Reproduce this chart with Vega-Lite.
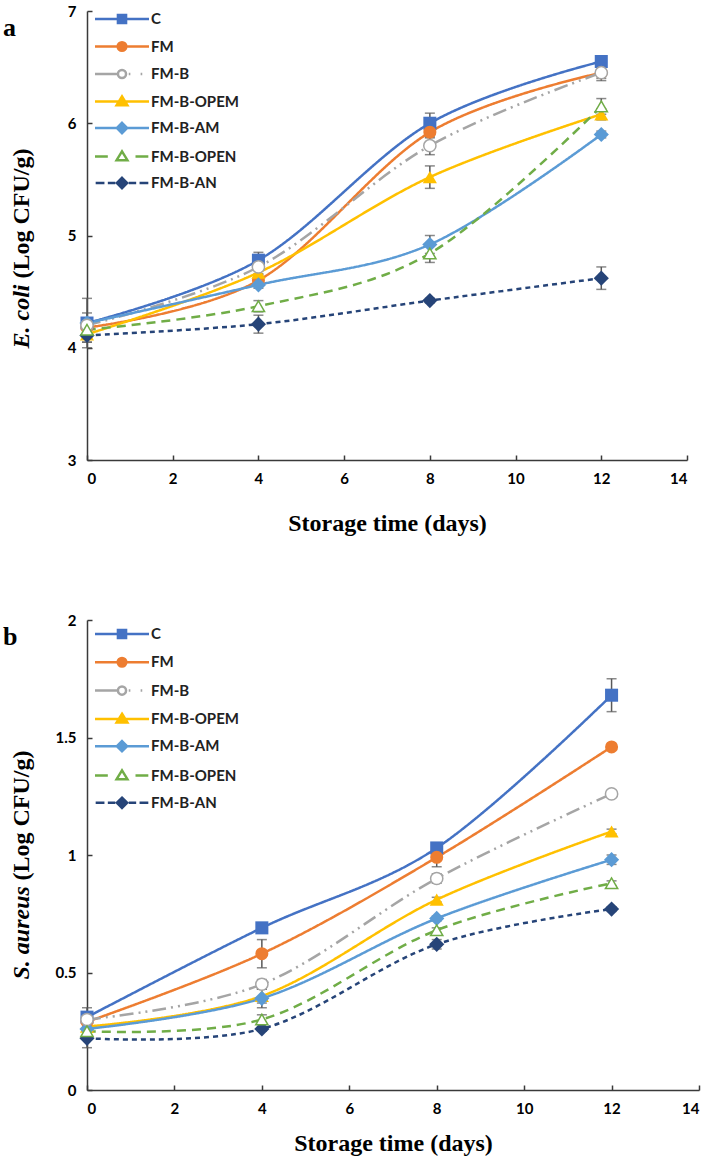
{
  "$schema": "https://vega.github.io/schema/vega-lite/v6.json",
  "padding": {"left": 3, "top": 4, "right": 5, "bottom": 5},
  "background": "white",
  "data": {
    "values": [
      {"panel": "a", "series": "C", "day": 0, "mean": 4.22, "sd": 0.22},
      {"panel": "a", "series": "C", "day": 4, "mean": 4.78, "sd": 0.07},
      {"panel": "a", "series": "C", "day": 8, "mean": 6.0, "sd": 0.09},
      {"panel": "a", "series": "C", "day": 12, "mean": 6.55, "sd": 0.05},
      {"panel": "a", "series": "FM", "day": 0, "mean": 4.18, "sd": 0.13},
      {"panel": "a", "series": "FM", "day": 4, "mean": 4.6, "sd": 0.05},
      {"panel": "a", "series": "FM", "day": 8, "mean": 5.92, "sd": 0.05},
      {"panel": "a", "series": "FM", "day": 12, "mean": 6.45, "sd": 0.07},
      {"panel": "a", "series": "FM-B", "day": 0, "mean": 4.2, "sd": 0.05},
      {"panel": "a", "series": "FM-B", "day": 4, "mean": 4.72, "sd": 0.06},
      {"panel": "a", "series": "FM-B", "day": 8, "mean": 5.8, "sd": 0.08},
      {"panel": "a", "series": "FM-B", "day": 12, "mean": 6.45, "sd": 0.05},
      {"panel": "a", "series": "FM-B-OPEM", "day": 0, "mean": 4.12, "sd": 0.04},
      {"panel": "a", "series": "FM-B-OPEM", "day": 4, "mean": 4.67, "sd": 0.05},
      {"panel": "a", "series": "FM-B-OPEM", "day": 8, "mean": 5.52, "sd": 0.1},
      {"panel": "a", "series": "FM-B-OPEM", "day": 12, "mean": 6.08, "sd": 0.05},
      {"panel": "a", "series": "FM-B-AM", "day": 0, "mean": 4.22, "sd": 0.04},
      {"panel": "a", "series": "FM-B-AM", "day": 4, "mean": 4.56, "sd": 0.03},
      {"panel": "a", "series": "FM-B-AM", "day": 8, "mean": 4.92, "sd": 0.08},
      {"panel": "a", "series": "FM-B-AM", "day": 12, "mean": 5.9, "sd": 0.03},
      {"panel": "a", "series": "FM-B-OPEN", "day": 0, "mean": 4.16, "sd": 0.05},
      {"panel": "a", "series": "FM-B-OPEN", "day": 4, "mean": 4.37, "sd": 0.05},
      {"panel": "a", "series": "FM-B-OPEN", "day": 8, "mean": 4.84, "sd": 0.08},
      {"panel": "a", "series": "FM-B-OPEN", "day": 12, "mean": 6.15, "sd": 0.07},
      {"panel": "a", "series": "FM-B-AN", "day": 0, "mean": 4.11, "sd": 0.06},
      {"panel": "a", "series": "FM-B-AN", "day": 4, "mean": 4.21, "sd": 0.08},
      {"panel": "a", "series": "FM-B-AN", "day": 8, "mean": 4.42, "sd": 0.02},
      {"panel": "a", "series": "FM-B-AN", "day": 12, "mean": 4.62, "sd": 0.1},
      {"panel": "b", "series": "C", "day": 0, "mean": 0.31, "sd": 0.04},
      {"panel": "b", "series": "C", "day": 4, "mean": 0.69, "sd": 0.02},
      {"panel": "b", "series": "C", "day": 8, "mean": 1.03, "sd": 0.01},
      {"panel": "b", "series": "C", "day": 12, "mean": 1.68, "sd": 0.07},
      {"panel": "b", "series": "FM", "day": 0, "mean": 0.29, "sd": 0.03},
      {"panel": "b", "series": "FM", "day": 4, "mean": 0.58, "sd": 0.06},
      {"panel": "b", "series": "FM", "day": 8, "mean": 0.99, "sd": 0.04},
      {"panel": "b", "series": "FM", "day": 12, "mean": 1.46, "sd": 0.01},
      {"panel": "b", "series": "FM-B", "day": 0, "mean": 0.3, "sd": 0.02},
      {"panel": "b", "series": "FM-B", "day": 4, "mean": 0.45, "sd": 0.02},
      {"panel": "b", "series": "FM-B", "day": 8, "mean": 0.9, "sd": 0.02},
      {"panel": "b", "series": "FM-B", "day": 12, "mean": 1.26, "sd": 0.01},
      {"panel": "b", "series": "FM-B-OPEM", "day": 0, "mean": 0.27, "sd": 0.02},
      {"panel": "b", "series": "FM-B-OPEM", "day": 4, "mean": 0.4, "sd": 0.03},
      {"panel": "b", "series": "FM-B-OPEM", "day": 8, "mean": 0.81, "sd": 0.01},
      {"panel": "b", "series": "FM-B-OPEM", "day": 12, "mean": 1.1, "sd": 0.01},
      {"panel": "b", "series": "FM-B-AM", "day": 0, "mean": 0.26, "sd": 0.02},
      {"panel": "b", "series": "FM-B-AM", "day": 4, "mean": 0.39, "sd": 0.04},
      {"panel": "b", "series": "FM-B-AM", "day": 8, "mean": 0.73, "sd": 0.01},
      {"panel": "b", "series": "FM-B-AM", "day": 12, "mean": 0.98, "sd": 0.02},
      {"panel": "b", "series": "FM-B-OPEN", "day": 0, "mean": 0.25, "sd": 0.02},
      {"panel": "b", "series": "FM-B-OPEN", "day": 4, "mean": 0.3, "sd": 0.02},
      {"panel": "b", "series": "FM-B-OPEN", "day": 8, "mean": 0.68, "sd": 0.01},
      {"panel": "b", "series": "FM-B-OPEN", "day": 12, "mean": 0.88, "sd": 0.01},
      {"panel": "b", "series": "FM-B-AN", "day": 0, "mean": 0.22, "sd": 0.04},
      {"panel": "b", "series": "FM-B-AN", "day": 4, "mean": 0.26, "sd": 0.01},
      {"panel": "b", "series": "FM-B-AN", "day": 8, "mean": 0.62, "sd": 0.02},
      {"panel": "b", "series": "FM-B-AN", "day": 12, "mean": 0.77, "sd": 0.01}
    ]
  },
  "vconcat": [
    {
      "width": 600,
      "height": 449,
      "title": {"text": "a", "anchor": "start", "frame": "group", "orient": "top", "offset": -58, "dx": -84, "baseline": "alphabetic", "font": "Liberation Serif", "fontSize": 26, "fontWeight": "bold", "color": "#000000"},
      "transform": [{"filter": {"field": "panel", "equal": "a"}}],
      "layer": [
        {
          "mark": {"type": "errorbar", "ticks": true, "size": 10, "thickness": 1.5, "color": "#595959"},
          "encoding": {
            "x": {"field": "day", "type": "quantitative"},
            "y": {"field": "mean", "type": "quantitative", "axis": null},
            "yError": {"field": "sd"}
          }
        },
        {
          "mark": {"type": "line", "interpolate": "cardinal", "strokeWidth": 2.5},
          "encoding": {
            "x": {"field": "day", "type": "quantitative", "scale": {"domain": [0, 14], "nice": false}, "axis": {"values": [0, 2, 4, 6, 8, 10, 12, 14], "title": "Storage time (days)"}},
            "y": {"field": "mean", "type": "quantitative", "scale": {"domain": [3, 7], "nice": false, "zero": false}, "axis": {"orient": "left", "values": [3, 4, 5, 6, 7], "title": "(Log CFU/g)", "titleX": -54, "titleY": 267, "titleAlign": "left", "titleAngle": -90, "titleBaseline": "bottom"}},
            "color": {"field": "series", "type": "nominal", "legend": null, "scale": {"domain": ["C", "FM", "FM-B", "FM-B-AM", "FM-B-AN", "FM-B-OPEM", "FM-B-OPEN"], "range": ["#4472C4", "#ED7D31", "#A5A5A5", "#5B9BD5", "#264478", "#FFC000", "#70AD47"]}},
            "strokeDash": {"field": "series", "type": "nominal", "legend": null, "scale": {"domain": ["C", "FM", "FM-B", "FM-B-AM", "FM-B-AN", "FM-B-OPEM", "FM-B-OPEN"], "range": [[1, 0], [1, 0], [14, 5, 2, 5, 2, 5], [1, 0], [5, 4], [1, 0], [9, 6]]}}
          }
        },
        {
          "transform": [{"filter": {"not": {"field": "series", "oneOf": ["FM-B", "FM-B-OPEN"]}}}],
          "mark": {"type": "point", "filled": true, "opacity": 1},
          "encoding": {
            "x": {"field": "day", "type": "quantitative"},
            "y": {"field": "mean", "type": "quantitative", "axis": null},
            "color": {"field": "series", "type": "nominal", "legend": null},
            "shape": {"condition": [{"test": "datum.series === 'C'", "value": "square"}, {"test": "datum.series === 'FM'", "value": "circle"}, {"test": "datum.series === 'FM-B-OPEM'", "value": "triangle-up"}], "value": "diamond"},
            "size": {"condition": [{"test": "datum.series === 'C'", "value": 170}, {"test": "datum.series === 'FM'", "value": 170}, {"test": "datum.series === 'FM-B-OPEM'", "value": 200}], "value": 230}
          }
        },
        {
          "transform": [{"filter": {"field": "series", "oneOf": ["FM-B", "FM-B-OPEN"]}}],
          "mark": {"type": "point", "filled": false, "fill": "white", "strokeWidth": 1.5, "opacity": 1},
          "encoding": {
            "x": {"field": "day", "type": "quantitative"},
            "y": {"field": "mean", "type": "quantitative", "axis": null},
            "color": {"field": "series", "type": "nominal", "legend": null},
            "shape": {"condition": {"test": "datum.series === 'FM-B'", "value": "circle"}, "value": "triangle-up"},
            "size": {"value": 150}
          }
        },
        {
          "transform": [{"filter": {"field": "day", "lt": 0}}],
          "mark": {"type": "point", "filled": true, "opacity": 1, "strokeWidth": 2.5, "size": 729},
          "encoding": {
            "x": {"field": "day", "type": "quantitative"},
            "y": {"field": "mean", "type": "quantitative", "axis": {"orient": "left", "domain": false, "ticks": false, "labels": false, "title": "E. coli", "titleFontStyle": "italic", "titleX": -54, "titleY": 337, "titleAlign": "left", "titleAngle": -90, "titleBaseline": "bottom"}},
            "shape": {"field": "series", "type": "nominal",
              "scale": {"domain": ["C", "FM", "FM-B", "FM-B-OPEM", "FM-B-AM", "FM-B-OPEN", "FM-B-AN"],
                "range": [
                  "M-2,0H2M-0.3,-0.3H0.3V0.3H-0.3Z",
                  "M-2,0H2M0.32,0A0.32,0.32 0 1,1 -0.32,0A0.32,0.32 0 1,1 0.32,0Z",
                  "M-2,0H-0.3M0.3,0A0.3,0.3 0 1,1 -0.3,0A0.3,0.3 0 1,1 0.3,0ZM0.5,0H0.62M1.38,0H1.5",
                  "M-2,0H2M0,-0.38L0.4,0.27L-0.4,0.27Z",
                  "M-2,0H2M0,-0.38L0.38,0L0,0.38L-0.38,0Z",
                  "M-2,0H-1.05M1,0H1.95M0,-0.38L0.4,0.27L-0.4,0.27Z",
                  "M-1.95,0H-1.3M-1.05,0H-0.5M0.5,0H1.05M1.3,0H1.95M0,-0.38L0.38,0L0,0.38L-0.38,0Z"
                ]},
              "legend": {"title": null, "orient": "none", "legendX": 0, "legendY": -7, "padding": 0, "symbolSize": 729, "symbolStrokeWidth": 2.5, "symbolOffset": 20, "labelOffset": 14, "labelFont": "Lato", "labelFontSize": 15, "labelFontWeight": "bold", "labelColor": "#222222", "rowPadding": 2.5}},
            "fill": {"field": "series", "type": "nominal", "scale": {"domain": ["C", "FM", "FM-B", "FM-B-OPEM", "FM-B-AM", "FM-B-OPEN", "FM-B-AN"], "range": ["#4472C4", "#ED7D31", "#FFFFFF", "#FFC000", "#5B9BD5", "#FFFFFF", "#264478"]},
              "legend": {"title": null, "orient": "none", "legendX": 0, "legendY": -7, "padding": 0, "symbolSize": 729, "symbolStrokeWidth": 2.5, "symbolOffset": 20, "labelOffset": 14, "labelFont": "Lato", "labelFontSize": 15, "labelFontWeight": "bold", "labelColor": "#222222", "rowPadding": 2.5}},
            "stroke": {"field": "series", "type": "nominal", "scale": {"domain": ["C", "FM", "FM-B", "FM-B-OPEM", "FM-B-AM", "FM-B-OPEN", "FM-B-AN"], "range": ["#4472C4", "#ED7D31", "#A5A5A5", "#FFC000", "#5B9BD5", "#70AD47", "#264478"]},
              "legend": {"title": null, "orient": "none", "legendX": 0, "legendY": -7, "padding": 0, "symbolSize": 729, "symbolStrokeWidth": 2.5, "symbolOffset": 20, "labelOffset": 14, "labelFont": "Lato", "labelFontSize": 15, "labelFontWeight": "bold", "labelColor": "#222222", "rowPadding": 2.5}}
          }
        }
      ],
      "resolve": {"axis": {"y": "independent"}}
    },
    {
      "width": 612,
      "height": 470,
      "title": {"text": "b", "anchor": "start", "frame": "group", "orient": "top", "offset": -58, "dx": -84, "baseline": "alphabetic", "font": "Liberation Serif", "fontSize": 26, "fontWeight": "bold", "color": "#000000"},
      "transform": [{"filter": {"field": "panel", "equal": "b"}}],
      "layer": [
        {
          "mark": {"type": "errorbar", "ticks": true, "size": 10, "thickness": 1.5, "color": "#595959"},
          "encoding": {
            "x": {"field": "day", "type": "quantitative"},
            "y": {"field": "mean", "type": "quantitative", "axis": null},
            "yError": {"field": "sd"}
          }
        },
        {
          "mark": {"type": "line", "interpolate": "cardinal", "strokeWidth": 2.5},
          "encoding": {
            "x": {"field": "day", "type": "quantitative", "scale": {"domain": [0, 14], "nice": false}, "axis": {"values": [0, 2, 4, 6, 8, 10, 12, 14], "title": "Storage time (days)", "titlePadding": 15}},
            "y": {"field": "mean", "type": "quantitative", "scale": {"domain": [0, 2], "nice": false}, "axis": {"orient": "left", "values": [0, 0.5, 1, 1.5, 2], "format": "~g", "title": "(Log CFU/g)", "titleX": -54, "titleY": 260, "titleAlign": "left", "titleAngle": -90, "titleBaseline": "bottom"}},
            "color": {"field": "series", "type": "nominal", "legend": null, "scale": {"domain": ["C", "FM", "FM-B", "FM-B-AM", "FM-B-AN", "FM-B-OPEM", "FM-B-OPEN"], "range": ["#4472C4", "#ED7D31", "#A5A5A5", "#5B9BD5", "#264478", "#FFC000", "#70AD47"]}},
            "strokeDash": {"field": "series", "type": "nominal", "legend": null, "scale": {"domain": ["C", "FM", "FM-B", "FM-B-AM", "FM-B-AN", "FM-B-OPEM", "FM-B-OPEN"], "range": [[1, 0], [1, 0], [14, 5, 2, 5, 2, 5], [1, 0], [5, 4], [1, 0], [9, 6]]}}
          }
        },
        {
          "transform": [{"filter": {"not": {"field": "series", "oneOf": ["FM-B", "FM-B-OPEN"]}}}],
          "mark": {"type": "point", "filled": true, "opacity": 1},
          "encoding": {
            "x": {"field": "day", "type": "quantitative"},
            "y": {"field": "mean", "type": "quantitative", "axis": null},
            "color": {"field": "series", "type": "nominal", "legend": null},
            "shape": {"condition": [{"test": "datum.series === 'C'", "value": "square"}, {"test": "datum.series === 'FM'", "value": "circle"}, {"test": "datum.series === 'FM-B-OPEM'", "value": "triangle-up"}], "value": "diamond"},
            "size": {"condition": [{"test": "datum.series === 'C'", "value": 170}, {"test": "datum.series === 'FM'", "value": 170}, {"test": "datum.series === 'FM-B-OPEM'", "value": 200}], "value": 230}
          }
        },
        {
          "transform": [{"filter": {"field": "series", "oneOf": ["FM-B", "FM-B-OPEN"]}}],
          "mark": {"type": "point", "filled": false, "fill": "white", "strokeWidth": 1.5, "opacity": 1},
          "encoding": {
            "x": {"field": "day", "type": "quantitative"},
            "y": {"field": "mean", "type": "quantitative", "axis": null},
            "color": {"field": "series", "type": "nominal", "legend": null},
            "shape": {"condition": {"test": "datum.series === 'FM-B'", "value": "circle"}, "value": "triangle-up"},
            "size": {"value": 150}
          }
        },
        {
          "transform": [{"filter": {"field": "day", "lt": 0}}],
          "mark": {"type": "point", "filled": true, "opacity": 1, "strokeWidth": 2.5, "size": 729},
          "encoding": {
            "x": {"field": "day", "type": "quantitative"},
            "y": {"field": "mean", "type": "quantitative", "axis": {"orient": "left", "domain": false, "ticks": false, "labels": false, "title": "S. aureus", "titleFontStyle": "italic", "titleX": -54, "titleY": 359, "titleAlign": "left", "titleAngle": -90, "titleBaseline": "bottom"}},
            "shape": {"field": "series", "type": "nominal",
              "scale": {"domain": ["C", "FM", "FM-B", "FM-B-OPEM", "FM-B-AM", "FM-B-OPEN", "FM-B-AN"],
                "range": [
                  "M-2,0H2M-0.3,-0.3H0.3V0.3H-0.3Z",
                  "M-2,0H2M0.32,0A0.32,0.32 0 1,1 -0.32,0A0.32,0.32 0 1,1 0.32,0Z",
                  "M-2,0H-0.3M0.3,0A0.3,0.3 0 1,1 -0.3,0A0.3,0.3 0 1,1 0.3,0ZM0.5,0H0.62M1.38,0H1.5",
                  "M-2,0H2M0,-0.38L0.4,0.27L-0.4,0.27Z",
                  "M-2,0H2M0,-0.38L0.38,0L0,0.38L-0.38,0Z",
                  "M-2,0H-1.05M1,0H1.95M0,-0.38L0.4,0.27L-0.4,0.27Z",
                  "M-1.95,0H-1.3M-1.05,0H-0.5M0.5,0H1.05M1.3,0H1.95M0,-0.38L0.38,0L0,0.38L-0.38,0Z"
                ]},
              "legend": {"title": null, "orient": "none", "legendX": 0, "legendY": -1, "padding": 0, "symbolSize": 729, "symbolStrokeWidth": 2.5, "symbolOffset": 20, "labelOffset": 14, "labelFont": "Lato", "labelFontSize": 15, "labelFontWeight": "bold", "labelColor": "#222222", "rowPadding": 3.3}},
            "fill": {"field": "series", "type": "nominal", "scale": {"domain": ["C", "FM", "FM-B", "FM-B-OPEM", "FM-B-AM", "FM-B-OPEN", "FM-B-AN"], "range": ["#4472C4", "#ED7D31", "#FFFFFF", "#FFC000", "#5B9BD5", "#FFFFFF", "#264478"]},
              "legend": {"title": null, "orient": "none", "legendX": 0, "legendY": -1, "padding": 0, "symbolSize": 729, "symbolStrokeWidth": 2.5, "symbolOffset": 20, "labelOffset": 14, "labelFont": "Lato", "labelFontSize": 15, "labelFontWeight": "bold", "labelColor": "#222222", "rowPadding": 3.3}},
            "stroke": {"field": "series", "type": "nominal", "scale": {"domain": ["C", "FM", "FM-B", "FM-B-OPEM", "FM-B-AM", "FM-B-OPEN", "FM-B-AN"], "range": ["#4472C4", "#ED7D31", "#A5A5A5", "#FFC000", "#5B9BD5", "#70AD47", "#264478"]},
              "legend": {"title": null, "orient": "none", "legendX": 0, "legendY": -1, "padding": 0, "symbolSize": 729, "symbolStrokeWidth": 2.5, "symbolOffset": 20, "labelOffset": 14, "labelFont": "Lato", "labelFontSize": 15, "labelFontWeight": "bold", "labelColor": "#222222", "rowPadding": 3.3}}
          }
        }
      ],
      "resolve": {"axis": {"y": "independent"}}
    }
  ],
  "resolve": {"scale": {"shape": "independent", "fill": "independent", "stroke": "independent", "color": "independent", "strokeDash": "independent"}},
  "spacing": 78,
  "config": {
    "view": {"stroke": null},
    "font": "Lato",
    "axis": {
      "grid": false,
      "domainColor": "#3a3a3a",
      "domainWidth": 1.5,
      "tickColor": "#3a3a3a",
      "tickWidth": 1.5,
      "tickSize": -5,
      "labelPadding": 16,
      "labelFont": "Lato",
      "labelFontWeight": "bold",
      "labelFontSize": 15,
      "labelColor": "#000000",
      "titleFont": "Liberation Serif",
      "titleFontWeight": "bold",
      "titleFontSize": 24,
      "titleColor": "#000000"
    },
    "axisX": {"titlePadding": 25}
  }
}
